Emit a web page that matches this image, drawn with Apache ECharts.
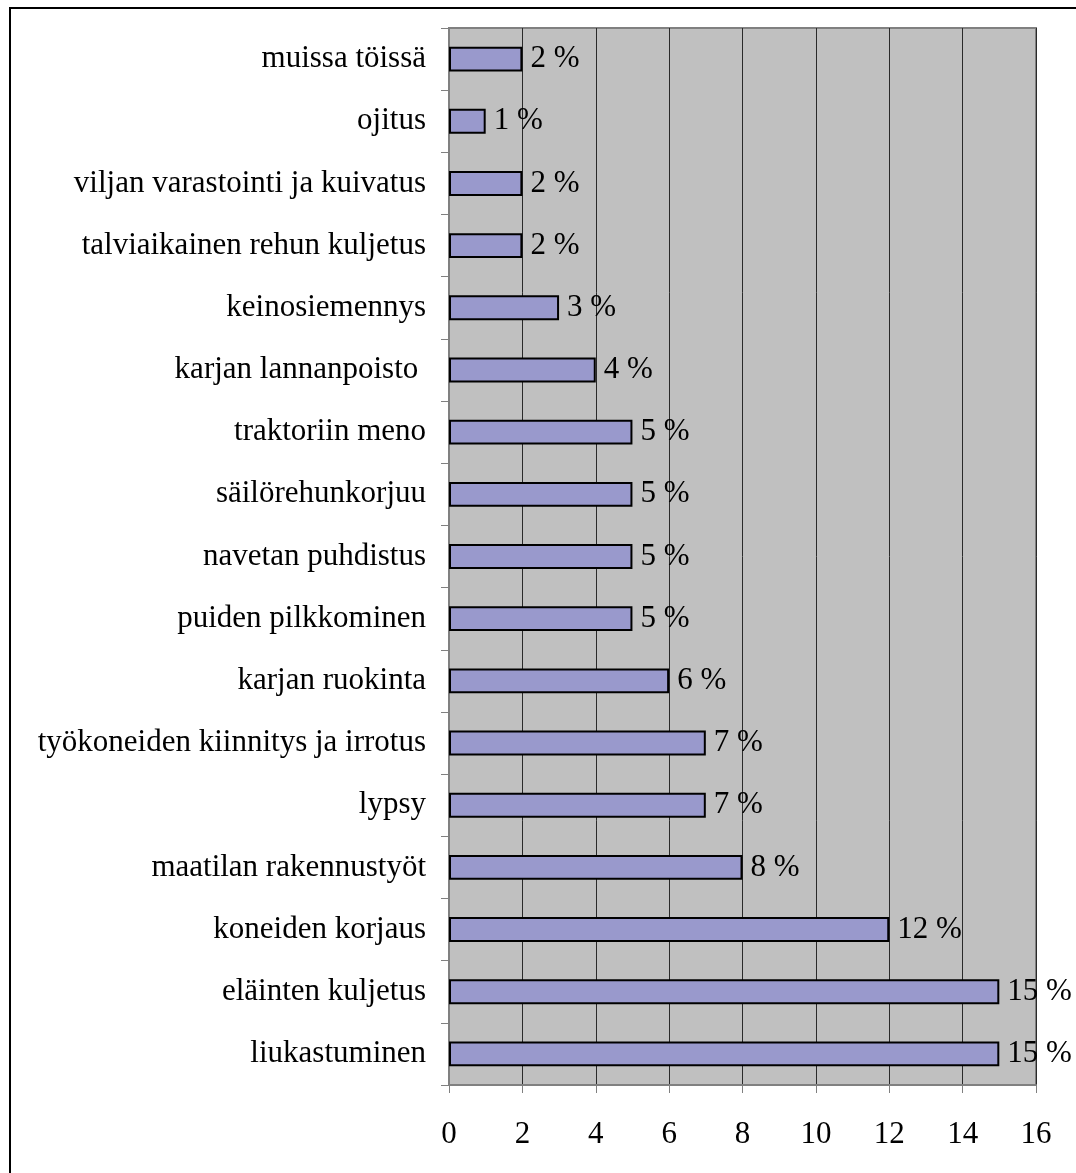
<!DOCTYPE html>
<html>
<head>
<meta charset="utf-8">
<script src="https://cdn.jsdelivr.net/npm/echarts@6/dist/echarts.min.js"></script>
<style>
html,body{margin:0;padding:0;background:#fff;}
#chart{width:1076px;height:1173px;}
</style>
</head>
<body>
<div id="chart"></div>
<script>
const categories = [
  "liukastuminen",
  "eläinten kuljetus",
  "koneiden korjaus",
  "maatilan rakennustyöt",
  "lypsy",
  "työkoneiden kiinnitys ja irrotus",
  "karjan ruokinta",
  "puiden pilkkominen",
  "navetan puhdistus",
  "säilörehunkorjuu",
  "traktoriin meno",
  "karjan lannanpoisto ",
  "keinosiemennys",
  "talviaikainen rehun kuljetus",
  "viljan varastointi ja kuivatus",
  "ojitus",
  "muissa töissä"
];
const values = [15, 15, 12, 8, 7, 7, 6, 5, 5, 5, 5, 4, 3, 2, 2, 1, 2];
const xTicks = [0, 2, 4, 6, 8, 10, 12, 14, 16];

const chart = echarts.init(document.getElementById('chart'));
const font = '"Liberation Serif","Times New Roman",serif';
chart.setOption({
  animation: false,
  backgroundColor: '#fff',
  textStyle: { fontFamily: font },
  graphic: [{
    type: 'rect',
    shape: { x: 10, y: 8, width: 3000, height: 3000 },
    style: { fill: 'none', stroke: '#000', lineWidth: 2 },
    z: 100
  }],
  grid: {
    left: 449, top: 28, width: 587, height: 1057,
    show: true, backgroundColor: '#c0c0c0', borderColor: '#808080', borderWidth: 2
  },
  xAxis: {
    type: 'value',
    min: xTicks[0], max: xTicks[xTicks.length - 1], interval: 2,
    axisLine: { show: true, lineStyle: { color: '#808080', width: 2 } },
    axisTick: { show: true, length: 8, inside: false, lineStyle: { color: '#808080', width: 1 } },
    axisLabel: { color: '#000', fontSize: 31, fontFamily: font, margin: 34 },
    splitLine: { show: true, lineStyle: { color: '#2a2a2a', width: 1 } }
  },
  yAxis: {
    type: 'category',
    data: categories,
    axisLine: { show: true, lineStyle: { color: '#808080', width: 2 } },
    axisTick: { show: true, length: 8, alignWithLabel: false, lineStyle: { color: '#808080', width: 1 } },
    axisLabel: { color: '#000', fontSize: 31, fontFamily: font, margin: 23, interval: 0, padding: [4, 0, 0, 0] },
    splitLine: { show: false }
  },
  series: [{
    type: 'bar',
    data: values,
    barCategoryGap: '60%',
    itemStyle: { color: '#9999cc', borderColor: '#000', borderWidth: 2 },
    label: {
      show: true, position: 'right', distance: 8, padding: [4, 0, 0, 0],
      formatter: '{c} %', color: '#000', fontSize: 31, fontFamily: font
    }
  }]
});
</script>
</body>
</html>
